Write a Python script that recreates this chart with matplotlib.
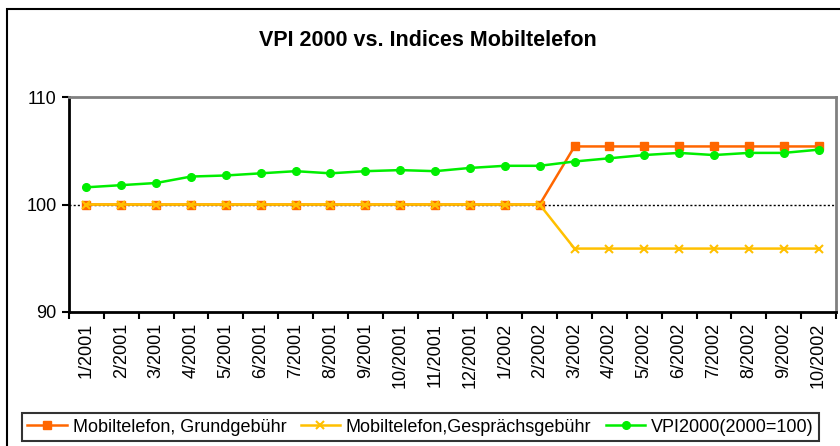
import matplotlib.pyplot as plt
from matplotlib.patches import Rectangle
import numpy as np

plt.rcParams["font.family"] = ["Liberation Sans", "DejaVu Sans"]

# Daten
months = ["1/2001", "2/2001", "3/2001", "4/2001", "5/2001", "6/2001", "7/2001",
          "8/2001", "9/2001", "10/2001", "11/2001", "12/2001", "1/2002", "2/2002",
          "3/2002", "4/2002", "5/2002", "6/2002", "7/2002", "8/2002", "9/2002", "10/2002"]
grundgebuehr = [100.0] * 14 + [105.4] * 8
gespraechsgebuehr = [100.0] * 14 + [95.9] * 8
vpi2000 = [101.6, 101.8, 102.0, 102.6, 102.7, 102.9, 103.1, 102.9, 103.1, 103.2, 103.1,
           103.4, 103.6, 103.6, 104.0, 104.3, 104.6, 104.8, 104.6, 104.8, 104.8, 105.1]

W, H = 840, 446
fig = plt.figure(figsize=(W / 100, H / 100), dpi=100)

# Rahmen um das Diagramm
fig.patches.append(Rectangle((7 / W, -0.05), 1.1, 1 - 9 / H + 0.05, transform=fig.transFigure,
                             fill=False, edgecolor="black", linewidth=1.5))

ax = fig.add_axes([69 / W, 1 - 312 / H, (836 - 69) / W, (312 - 97) / H])
x = np.arange(len(months))

ax.plot(x, grundgebuehr, color="#FF6600", marker="s", markersize=5.5, linewidth=1.8,
        markeredgecolor="#FF6600", label="Mobiltelefon, Grundgebühr")
ax.plot(x, gespraechsgebuehr, color="#FFC000", marker="x", markersize=5.5, linewidth=1.8,
        markeredgewidth=1.5, label="Mobiltelefon,Gesprächsgebühr")
ax.plot(x, vpi2000, color="#00EE00", marker="o", markersize=5.5, linewidth=1.8,
        label="VPI2000(2000=100)")

ax.set_xlim(-0.5, len(months) - 0.5)
ax.set_ylim(90, 110)
ax.set_yticks([90, 100, 110])
ax.axhline(100, color="black", linestyle=(0, (1.5, 1.5)), linewidth=1, zorder=1)

ax.set_xticks(x)
ax.set_xticklabels(months, rotation=90, fontsize=13)
ax.set_xticks(np.arange(-0.5, len(months)), minor=True)
ax.tick_params(axis="x", which="major", length=0, pad=8)
ax.tick_params(axis="x", which="minor", length=5, width=1.5, direction="out")
ax.tick_params(axis="y", labelsize=13, length=5, width=1.5, direction="out", pad=4)

ax.spines["left"].set_linewidth(2)
ax.spines["bottom"].set_linewidth(2)
ax.spines["top"].set_color("gray")
ax.spines["right"].set_color("gray")
ax.spines["top"].set_linewidth(2)
ax.spines["right"].set_linewidth(2)

fig.text(428 / W, 1 - 41 / H, "VPI 2000 vs. Indices Mobiltelefon", ha="center", va="center",
         fontsize=15.5, fontweight="bold")

leg = fig.legend(loc="center left", bbox_to_anchor=(22 / W, 1 - 427 / H), ncol=3,
                 fontsize=13, frameon=True, fancybox=False, edgecolor="black",
                 handlelength=2.2, handletextpad=0.3, columnspacing=0.8,
                 borderpad=0.3, borderaxespad=0)
leg.get_frame().set_linewidth(1.5)

plt.savefig("out.png", dpi=100)
